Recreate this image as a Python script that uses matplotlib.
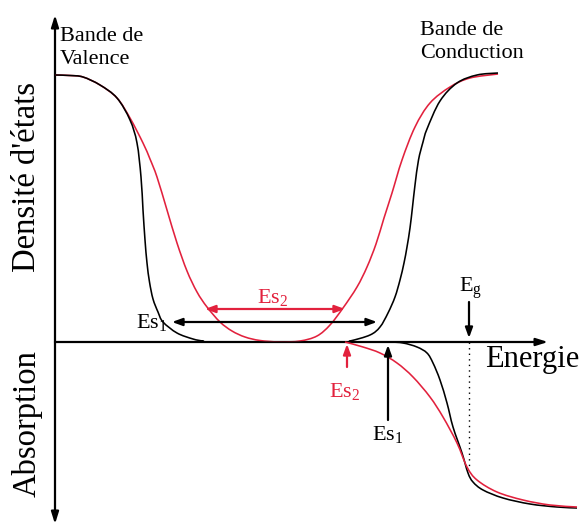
import matplotlib
matplotlib.use("Agg")
import matplotlib.pyplot as plt
from matplotlib.path import Path
from matplotlib.patches import PathPatch

plt.rcParams['font.family'] = ['Liberation Serif', 'DejaVu Serif']
plt.rcParams['mathtext.fontset'] = 'custom'
plt.rcParams['mathtext.rm'] = 'Liberation Serif'
plt.rcParams['mathtext.it'] = 'Liberation Serif:italic'

RED = '#e2213d'

# ---- data (energy in arbitrary units, origin at axes crossing) ----
# Density of states, sample 1 (black)
dos1_E = [0, 15, 28, 45, 62, 75, 82, 86, 88, 90, 92, 94.5, 98, 103, 108, 122,
          138, 148, 160, 285, 295, 315, 325, 333, 340, 345, 349, 352, 355,
          357.5, 360, 363.5, 368, 372, 385, 402, 422, 443]
dos1_D = [267, 266.5, 265, 257, 244, 222, 199, 165, 132, 102, 79, 60, 43, 30,
          20, 9, 3, 1, 0, 0, 1, 7, 15, 29, 45, 62, 79, 95, 114, 135, 157, 182,
          200, 213, 241, 259, 267, 269]
# Density of states, sample 2 (red)
dos2_E = [0, 15, 28, 45, 62, 75, 88, 95, 102, 112, 122, 132, 142, 152, 165, 177,
          190, 205, 225, 245, 262, 275, 288, 302, 312, 321, 329, 337, 347,
          360, 375, 395, 415, 443]
dos2_D = [267, 266.5, 265, 257, 244, 224, 199, 183, 165, 132, 99, 71, 50, 35,
          20, 11, 5, 1.5, 0, 1, 6, 17, 34, 55, 75, 98, 124, 149, 182, 215,
          239, 255, 264, 268]
# Absorption, sample 1 (black)
abs1_E = [295, 333, 348, 362, 372, 378, 385, 392, 398, 407, 413, 418, 428, 448,
          475, 502, 522]
abs1_A = [0, 0, -1, -5, -11, -21, -38, -61, -85, -111, -131, -140, -148, -156,
          -162, -165, -166]
# Absorption, sample 2 (red)
abs2_E = [290, 308, 325, 342, 358, 375, 388, 402, 412, 422, 442, 468, 495, 522]
abs2_A = [0, -5, -11, -21, -35, -55, -75, -101, -125, -138, -150, -158, -163,
          -165]

# annotation energies
Es1_span = [117, 322]     # black double arrow (DOS)
Es2_span = [150, 290]     # red double arrow (DOS)
Es2_abs = 292             # red absorption threshold
Es1_abs = 333             # black absorption threshold
Eg = 414                  # band gap


def smooth_path(xs, ys):
    """Cubic Bezier path passing through every data point (Catmull-Rom tangents)."""
    pts = list(zip(xs, ys))
    n = len(pts)
    verts = [pts[0]]
    codes = [Path.MOVETO]
    for i in range(n - 1):
        p0 = pts[i - 1] if i > 0 else pts[i]
        p1 = pts[i]
        p2 = pts[i + 1]
        p3 = pts[i + 2] if i + 2 < n else pts[i + 1]
        c1 = (p1[0] + (p2[0] - p0[0]) / 6, p1[1] + (p2[1] - p0[1]) / 6)
        c2 = (p2[0] - (p3[0] - p1[0]) / 6, p2[1] - (p3[1] - p1[1]) / 6)
        verts += [c1, c2, p2]
        codes += [Path.CURVE4] * 3
    return Path(verts, codes)


fig = plt.figure(figsize=(5.84, 5.26), dpi=100)
ax = fig.add_axes([0, 0, 1, 1])
ax.set_xlim(-55, 529)
ax.set_ylim(-184, 342)
ax.axis('off')

axis_arrow = dict(arrowstyle='-|>,head_length=0.7,head_width=0.22', lw=1.6,
                  color='black', shrinkA=0, shrinkB=0)
ax.annotate('', xy=(0, 327), xytext=(0, 0), arrowprops=axis_arrow)
ax.annotate('', xy=(0, -182), xytext=(0, 0), arrowprops=axis_arrow)
ax.annotate('', xy=(493, 0), xytext=(0, 0), arrowprops=axis_arrow)

for xs, ys, c in [(dos2_E, dos2_D, RED), (dos1_E, dos1_D, 'black'),
                  (abs1_E, abs1_A, 'black'), (abs2_E, abs2_A, RED)]:
    ax.add_patch(PathPatch(smooth_path(xs, ys), facecolor='none', edgecolor=c,
                           lw=1.15, joinstyle='round', zorder=3))

ax.plot([Eg, Eg], [0, -125], color='black', lw=1.0, ls=(0, (1, 3)), zorder=1)

small_arrow = dict(arrowstyle='-|>,head_length=0.6,head_width=0.22', lw=1.6,
                   shrinkA=0, shrinkB=0)
dbl_arrow = dict(arrowstyle='<|-|>,head_length=0.6,head_width=0.22', lw=1.6,
                 shrinkA=0, shrinkB=0)

ax.annotate('', xy=(Es1_span[1], 20), xytext=(Es1_span[0], 20),
            arrowprops=dict(dbl_arrow, color='black'))
ax.annotate('', xy=(Es2_span[1], 33), xytext=(Es2_span[0], 33),
            arrowprops=dict(dbl_arrow, color=RED))
ax.annotate('', xy=(Es2_abs, -2), xytext=(Es2_abs, -25),
            arrowprops=dict(small_arrow, color=RED))
ax.annotate('', xy=(Es1_abs, -3), xytext=(Es1_abs, -78),
            arrowprops=dict(small_arrow, color='black'))
ax.annotate('', xy=(Eg, 4), xytext=(Eg, 40),
            arrowprops=dict(small_arrow, color='black'))

lab = 16
ax.text(112, 14, r'Es$_{\mathrm{1}}$', fontsize=lab, ha='right', va='baseline')
ax.text(218, 39, r'Es$_{\mathrm{2}}$', fontsize=lab, ha='center', va='baseline',
        color=RED)
ax.text(290, -55, r'Es$_{\mathrm{2}}$', fontsize=lab, ha='center',
        va='baseline', color=RED)
ax.text(333, -98, r'Es$_{\mathrm{1}}$', fontsize=lab, ha='center',
        va='baseline')
ax.text(416, 50, r'E$_{\mathrm{g}}$', fontsize=lab, ha='center', va='baseline')

ax.text(430, -18, 'Energie', fontsize=22, ha='left', va='center')
ax.text(-28, 165, "Densité d'états", fontsize=23.5, rotation=90, ha='center',
        va='center')
ax.text(-28, -82, 'Absorption', fontsize=23.5, rotation=90, ha='center',
        va='center')
ax.text(5, 315, 'Bande de\nValence', fontsize=16, ha='left', va='top',
        linespacing=1.25)
ax.text(365, 321, 'Bande de\nConduction', fontsize=16, ha='left', va='top',
        linespacing=1.25)

fig.savefig('out.png', dpi=100)
